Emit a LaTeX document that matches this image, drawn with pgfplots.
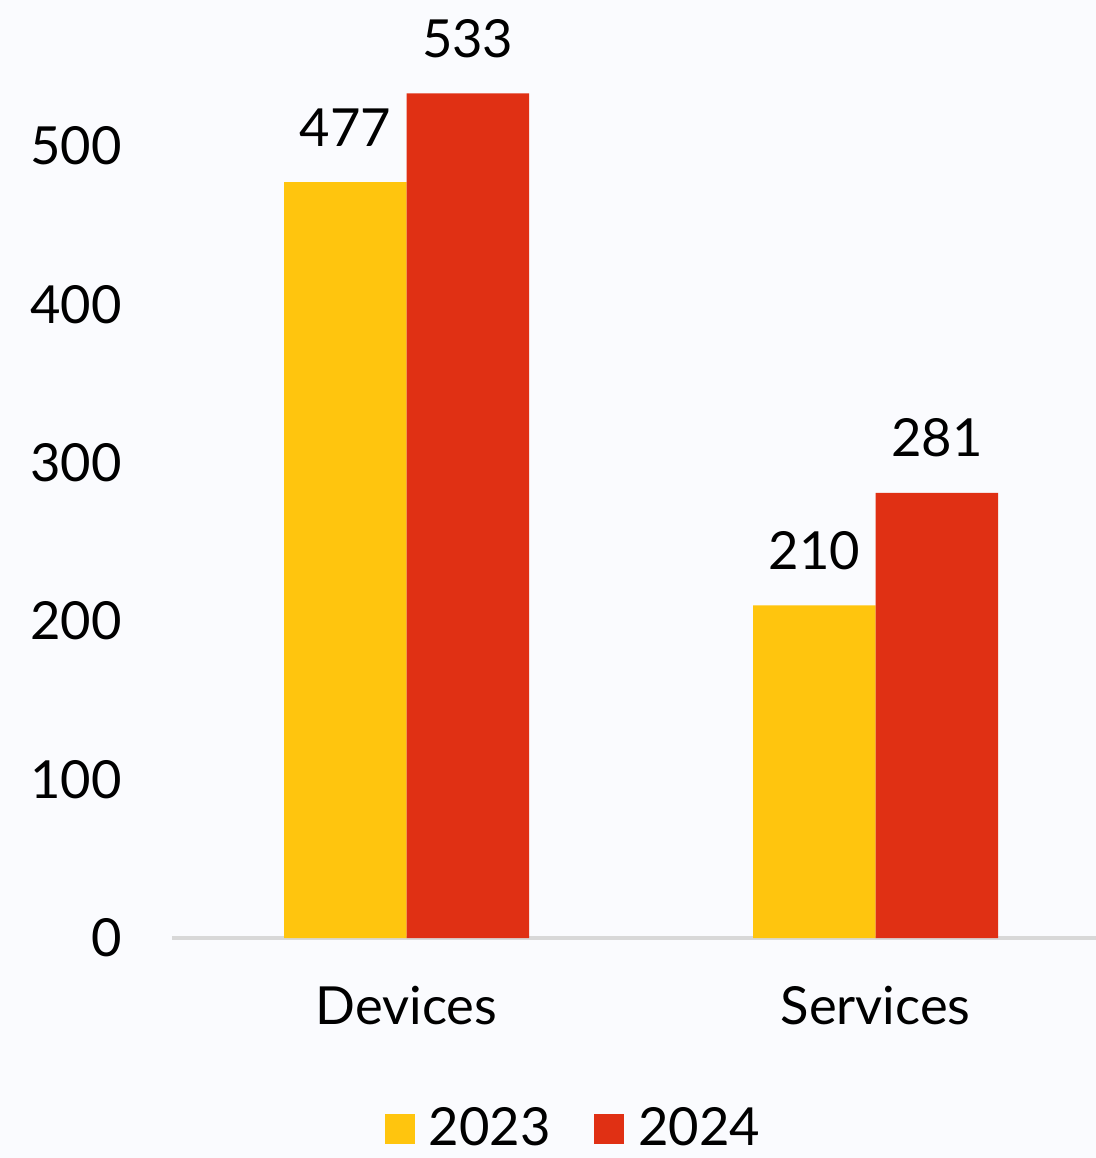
\documentclass[border=0pt]{standalone}
\usepackage{pgfplots}
\pgfplotsset{compat=1.18}
\usepackage{fontspec}
\setmainfont{Lato}
\definecolor{bg}{RGB}{250,251,254}
\definecolor{cyel}{RGB}{255,197,14}
\definecolor{cred}{RGB}{224,48,20}
\definecolor{axgray}{RGB}{216,216,216}
\begin{document}
\fontsize{21}{25}\selectfont
\begin{tikzpicture}
\fill[bg] (0,0) rectangle (438.4pt,463.2pt);
\useasboundingbox (0,0) rectangle (438.4pt,463.2pt);
\begin{axis}[
  at={(68.8pt,88pt)}, anchor=south west,
  scale only axis, width=369.6pt, height=375.2pt,
  ybar=0pt, bar width=49pt,
  xmin=-0.5, xmax=1.47, ymin=0, ymax=592,
  xtick={0,1}, xticklabels={Devices,Services},
  ytick={0,100,200,300,400,500},
  axis x line*=bottom, axis y line*=left,
  y axis line style={draw=none},
  x axis line style={draw=axgray, line width=1.3pt},
  major tick length=0pt,
  tick style={draw=none},
  ticklabel style={font=\fontsize{21}{25}\selectfont},
  yticklabel style={anchor=east, inner sep=0pt, xshift=-20pt},
  xticklabel style={anchor=north, inner sep=0pt, yshift=-19pt},
  /pgf/number format/assume math mode=true,
  nodes near coords,
  every node near coord/.append style={anchor=south, inner sep=0pt, yshift=14pt, font=\fontsize{21}{25}\selectfont, text=black},
  legend columns=2,
  legend style={at={(0.4334,-0.205)}, anchor=center, draw=none, fill=none,
    font=\fontsize{21}{25}\selectfont, inner sep=0pt,
    nodes={inner sep=0pt},
    /tikz/every even column/.append style={column sep=17.6pt}},
  legend image code/.code={\fill[#1] (0pt,-5.5pt) rectangle (12pt,6.5pt); \path (17.6pt,0pt);},
  clip=false,
]
\addplot[fill=cyel, draw=none] coordinates {(0,477) (1,210)};
\addplot[fill=cred, draw=none] coordinates {(0,533) (1,281)};
\legend{2023,2024}
\end{axis}
\end{tikzpicture}
\end{document}
